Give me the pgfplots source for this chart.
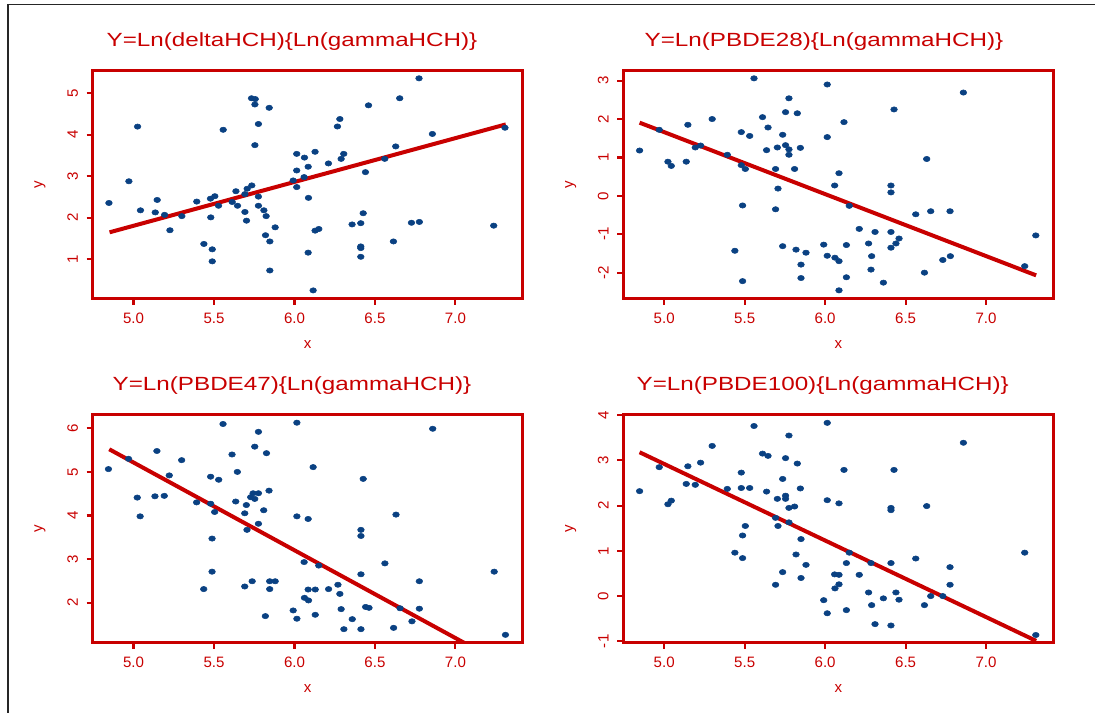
\documentclass[border=0pt]{standalone}
\usepackage{fontspec}
\setmainfont{Liberation Sans}
\usepackage{pgfplots}
\pgfplotsset{compat=1.18}
\definecolor{rred}{RGB}{200,0,0}
\definecolor{rblue}{RGB}{10,65,130}

\pgfplotsset{rplot/.style={
  scale only axis,width=322.5pt,height=171pt,anchor=north west,
  axis line style={rred,line width=1.8pt},
  tick style={rred,line width=1.6pt},
  major tick length=4.5pt,tick align=outside,
  xtick pos=bottom,ytick pos=left,
  xmin=4.746,xmax=7.418,xtick={5,5.5,6,6.5,7},
  /pgf/number format/assume math mode=true,
  xticklabel style={/pgf/number format/fixed,/pgf/number format/fixed zerofill,/pgf/number format/precision=1},
  ticklabel style={font=\fontsize{11.3}{13}\selectfont,text=rred},
  yticklabel style={rotate=90,anchor=south},
  xticklabel shift=3pt,yticklabel shift=3pt,
  xlabel={x},ylabel={y},
  label style={font=\fontsize{11.3}{13}\selectfont,text=rred},
  xlabel style={at={(axis description cs:0.5,-0.203)},anchor=center},
  ylabel style={at={(axis description cs:-0.1225,0.5)},anchor=center},
  pts/.style={only marks,mark=*,mark size=2pt,mark options={xscale=1.25,fill=rblue,draw=rblue}},
  fit/.style={no marks,color=rred,line width=3pt},
}}
\newcommand{\ttl}[1]{\scalebox{1.27}[1]{#1}}

\begin{document}
\begin{tikzpicture}
\draw[line width=1.2pt,black!85] (6.2pt,-534.75pt)--(6.2pt,-3.5pt)--(821.25pt,-3.5pt);

% panel 1
\begin{axis}[rplot,at={(69.5pt,-53pt)},ymin=0.051,ymax=5.545,ytick={1,2,3,4,5}]
\addplot[pts] coordinates {(4.847,2.357)(4.971,2.88)(5.025,4.197)(5.043,2.18)(5.135,2.13)(5.147,2.43)(5.193,2.07)(5.226,1.70)(5.30,2.04)(5.393,2.39)(5.437,1.37)(5.48,2.01)(5.478,2.46)(5.505,2.52)(5.489,1.24)(5.489,0.95)(5.528,2.29)(5.557,4.12)(5.613,2.38)(5.636,2.64)(5.646,2.29)(5.692,2.14)(5.692,2.57)(5.702,1.93)(5.706,2.70)(5.735,2.78)(5.733,4.88)(5.756,4.86)(5.754,4.73)(5.776,4.26)(5.754,3.75)(5.776,2.51)(5.776,2.29)(5.81,2.18)(5.824,2.04)(5.82,1.58)(5.847,1.43)(5.88,1.77)(5.843,4.65)(5.847,0.73)(5.992,2.90)(6.014,2.74)(6.014,3.14)(6.014,3.54)(6.06,2.98)(6.062,3.45)(6.085,3.23)(6.087,2.48)(6.085,1.16)(6.128,3.59)(6.128,1.69)(6.151,1.73)(6.116,0.25)(6.211,3.31)(6.267,4.20)(6.282,4.38)(6.29,3.42)(6.306,3.54)(6.358,1.84)(6.412,1.87)(6.427,2.11)(6.412,1.31)(6.412,1.27)(6.412,1.06)(6.441,3.10)(6.46,4.71)(6.561,3.42)(6.615,1.43)(6.629,3.72)(6.654,4.88)(6.727,1.88)(6.776,1.90)(6.774,5.36)(6.857,4.02)(7.238,1.81)(7.308,4.17)};
\addplot[fit] coordinates {(4.851,1.65)(7.313,4.25)};
\end{axis}

% panel 2
\begin{axis}[rplot,at={(467.5pt,-53pt)},ymin=-2.677,ymax=3.26,ytick={-2,-1,0,1,2,3}]
\addplot[pts] coordinates {(4.847,1.18)(4.969,1.72)(5.023,0.89)(5.044,0.78)(5.137,0.89)(5.147,1.85)(5.193,1.26)(5.226,1.31)(5.298,2.00)(5.392,1.07)(5.439,-1.43)(5.479,1.66)(5.479,0.80)(5.504,0.70)(5.487,-0.25)(5.487,-2.22)(5.531,1.56)(5.558,3.06)(5.611,2.05)(5.636,1.19)(5.645,1.78)(5.692,0.70)(5.692,-0.35)(5.703,1.26)(5.707,0.19)(5.736,1.59)(5.736,-1.31)(5.754,2.18)(5.754,1.32)(5.775,2.54)(5.775,1.21)(5.775,1.07)(5.81,0.70)(5.819,-1.40)(5.827,2.15)(5.846,1.25)(5.85,-1.79)(5.85,-2.14)(5.881,-1.48)(5.991,-1.27)(6.013,2.90)(6.013,1.53)(6.013,-1.56)(6.059,0.27)(6.061,-1.61)(6.086,-1.70)(6.086,0.59)(6.086,-2.46)(6.117,1.92)(6.132,-1.28)(6.132,-2.12)(6.15,-0.26)(6.212,-0.86)(6.27,-1.24)(6.285,-1.92)(6.289,-1.57)(6.31,-0.94)(6.362,-2.26)(6.409,0.27)(6.409,0.09)(6.409,-0.94)(6.409,-1.35)(6.428,2.25)(6.44,-1.24)(6.459,-1.11)(6.563,-0.48)(6.617,-2.0)(6.631,0.96)(6.656,-0.40)(6.731,-1.67)(6.776,-0.40)(6.778,-1.57)(6.859,2.69)(7.24,-1.83)(7.309,-1.03)};
\addplot[fit] coordinates {(4.847,1.906)(7.311,-2.07)};
\end{axis}

% panel 3
\begin{axis}[rplot,at={(69.5pt,-311pt)},ymin=1.08,ymax=6.314,ytick={2,3,4,5,6}]
\addplot[pts] coordinates {(4.844,5.065)(4.969,5.30)(5.023,4.41)(5.041,3.98)(5.145,5.48)(5.133,4.44)(5.191,4.45)(5.222,4.92)(5.299,5.27)(5.392,4.30)(5.436,2.31)(5.479,4.89)(5.479,4.27)(5.504,4.08)(5.488,3.47)(5.488,2.71)(5.529,4.82)(5.556,6.10)(5.612,5.40)(5.635,4.32)(5.645,5.00)(5.691,2.37)(5.691,4.05)(5.701,4.24)(5.705,3.67)(5.737,2.49)(5.728,4.42)(5.743,4.51)(5.753,4.38)(5.776,4.51)(5.753,5.58)(5.776,5.92)(5.776,3.81)(5.809,4.12)(5.819,1.69)(5.826,5.43)(5.842,4.57)(5.846,2.49)(5.846,2.31)(5.880,2.49)(5.992,1.82)(6.015,6.13)(6.015,3.98)(6.015,1.63)(6.06,2.93)(6.062,2.11)(6.085,3.92)(6.085,2.30)(6.087,2.05)(6.116,5.11)(6.129,2.30)(6.129,1.72)(6.151,2.85)(6.212,2.31)(6.27,2.41)(6.282,2.20)(6.29,1.85)(6.307,1.39)(6.359,1.62)(6.413,3.67)(6.413,3.53)(6.413,2.65)(6.413,1.39)(6.427,4.84)(6.442,1.90)(6.463,1.88)(6.562,2.90)(6.616,1.42)(6.631,4.02)(6.656,1.87)(6.73,1.57)(6.776,2.49)(6.776,1.86)(6.859,5.99)(7.241,2.71)(7.311,1.26)};
\addplot[fit] coordinates {(4.849,5.52)(7.311,0.56)};
\end{axis}

% panel 4
\begin{axis}[rplot,at={(467.5pt,-311pt)},ymin=-1.03,ymax=4.011,ytick={-1,0,1,2,3,4}]
\addplot[pts] coordinates {(4.847,2.32)(4.969,2.85)(5.023,2.03)(5.044,2.11)(5.137,2.48)(5.147,2.87)(5.193,2.46)(5.226,2.95)(5.298,3.32)(5.392,2.37)(5.439,0.96)(5.479,2.73)(5.479,2.39)(5.531,2.39)(5.504,1.55)(5.487,1.34)(5.487,0.84)(5.558,3.76)(5.611,3.15)(5.645,3.10)(5.636,2.31)(5.692,1.73)(5.692,0.25)(5.703,2.15)(5.707,1.55)(5.736,2.59)(5.736,0.53)(5.754,3.05)(5.754,2.22)(5.754,2.15)(5.775,3.55)(5.775,1.95)(5.775,1.63)(5.81,1.98)(5.819,0.92)(5.827,2.93)(5.846,2.38)(5.85,1.26)(5.85,0.40)(5.881,0.69)(5.991,-0.09)(6.013,3.83)(6.013,2.12)(6.013,-0.38)(6.059,0.48)(6.061,0.17)(6.086,0.47)(6.086,0.26)(6.086,2.05)(6.117,2.79)(6.132,0.73)(6.132,-0.31)(6.15,0.96)(6.212,0.47)(6.27,0.08)(6.285,0.73)(6.289,-0.20)(6.31,-0.62)(6.362,-0.05)(6.409,1.95)(6.409,1.90)(6.409,0.73)(6.409,-0.65)(6.428,2.79)(6.44,0.08)(6.459,-0.08)(6.563,0.83)(6.617,-0.20)(6.631,1.99)(6.656,0.00)(6.731,0.00)(6.776,0.64)(6.776,0.25)(6.859,3.39)(7.24,0.96)(7.309,-0.86)};
\addplot[fit] coordinates {(4.847,3.18)(7.311,-0.99)};
\end{axis}

\begin{scope}[every node/.style={font=\fontsize{14.3}{16}\selectfont,text=rred,anchor=base}]
\node at (219pt,-35pt) {\ttl{Y=Ln(deltaHCH)\{Ln(gammaHCH)\}}};
\node at (618pt,-35pt) {\ttl{Y=Ln(PBDE28)\{Ln(gammaHCH)\}}};
\node at (219pt,-293pt) {\ttl{Y=Ln(PBDE47)\{Ln(gammaHCH)\}}};
\node at (617pt,-293pt) {\ttl{Y=Ln(PBDE100)\{Ln(gammaHCH)\}}};
\end{scope}

\pgfresetboundingbox
\path (0,0) rectangle (821.25pt,-534.75pt);
\end{tikzpicture}
\end{document}
